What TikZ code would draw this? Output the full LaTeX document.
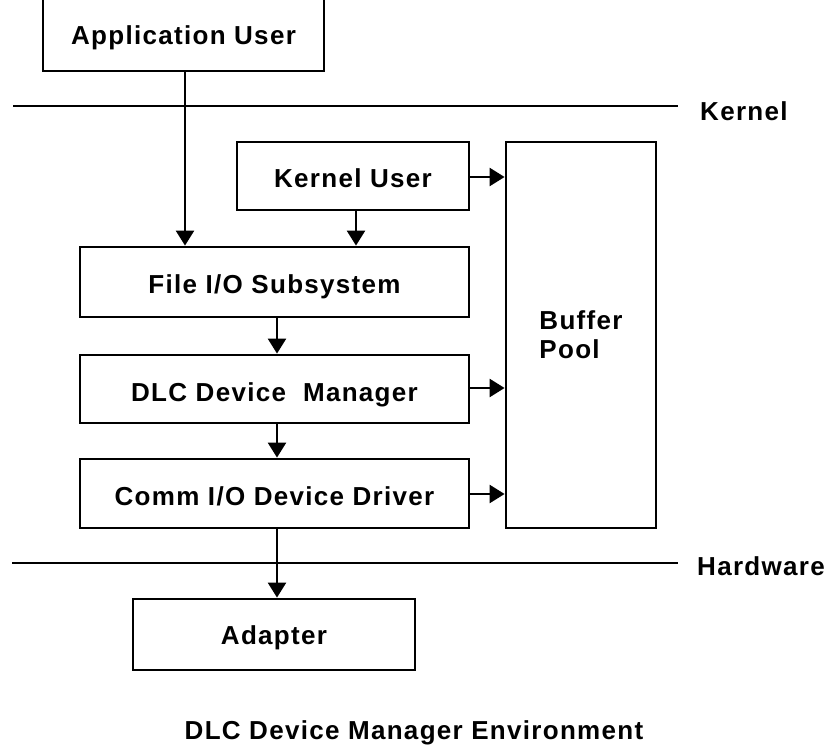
\documentclass[tikz,border=0pt]{standalone}
\usepackage{fontspec}
\usetikzlibrary{arrows.meta}
\newfontfamily\diagfont[LetterSpace=5]{Liberation Sans}
\newcommand\labelfont{\diagfont\bfseries\fontsize{26}{29}\selectfont}

\tikzset{
  frame/.style={draw, line width=2.8pt, inner sep=0pt, fill=white, font=\labelfont},
  blk/.style={frame, text height=24pt, text depth=0pt},
  flow/.style={line width=2.4pt, -{Triangle[length=15pt,width=18pt]}},
  sep/.style={line width=1.8pt},
  tag/.style={inner sep=0pt, anchor=base west, font=\labelfont},
}

\begin{document}
\begin{tikzpicture}[x=1pt, y=-1pt]
  \useasboundingbox[fill=white] (0,0) rectangle (833,751);

  % layer boundaries
  \coordinate (kl) at (13,106);  \coordinate (kr) at (678,106);
  \coordinate (hl) at (12,563);  \coordinate (hr) at (678,563);
  \draw[sep] (kl) -- (kr);
  \draw[sep] (hl) -- (hr);
  \node[tag] (kernel) at (700,121) {Kernel};
  \node[tag] (hw) at (697,575) {Hardware};

  % components
  \node[blk, minimum width=281pt, minimum height=76pt] (app) at (183.5,33) {Application User};
  \node[blk, minimum width=232pt, minimum height=68pt] (kuser) at (353,176) {Kernel User};
  \node[frame, minimum width=150pt, minimum height=386pt, align=left] (buf) at (581,335) {Buffer\\Pool};
  \node[blk, minimum width=389pt, minimum height=70pt] (fio) at (274.5,282) {File I/O Subsystem};
  \node[blk, minimum width=389pt, minimum height=68pt] (dlc) at (274.5,389) {DLC Device\ \ Manager};
  \node[blk, minimum width=389pt, minimum height=69pt] (comm) at (274.5,493.5) {Comm I/O Device Driver};
  \node[blk, minimum width=282pt, minimum height=71pt, text height=19pt] (adp) at (274,634.5) {Adapter};

  \node[inner sep=0pt, anchor=base, font=\labelfont]
    (cap) at (414,739) {DLC Device Manager Environment};

  % vertical flow
  \coordinate (xa) at (185,0);
  \coordinate (xk) at (356,0);
  \coordinate (xm) at (277,0);
  \draw[flow] (app.south -| xa) -- (fio.north -| xa);
  \draw[flow] (kuser.south -| xk) -- (fio.north -| xk);
  \draw[flow] (fio.south -| xm) -- (dlc.north -| xm);
  \draw[flow] (dlc.south -| xm) -- (comm.north -| xm);
  \draw[flow] (comm.south -| xm) -- (adp.north -| xm);

  % buffer pool access
  \coordinate (y1) at (0,177);
  \coordinate (y2) at (0,388);
  \coordinate (y3) at (0,494);
  \draw[flow] (kuser.east |- y1) -- (buf.west |- y1);
  \draw[flow] (dlc.east |- y2) -- (buf.west |- y2);
  \draw[flow] (comm.east |- y3) -- (buf.west |- y3);
\end{tikzpicture}
\end{document}
